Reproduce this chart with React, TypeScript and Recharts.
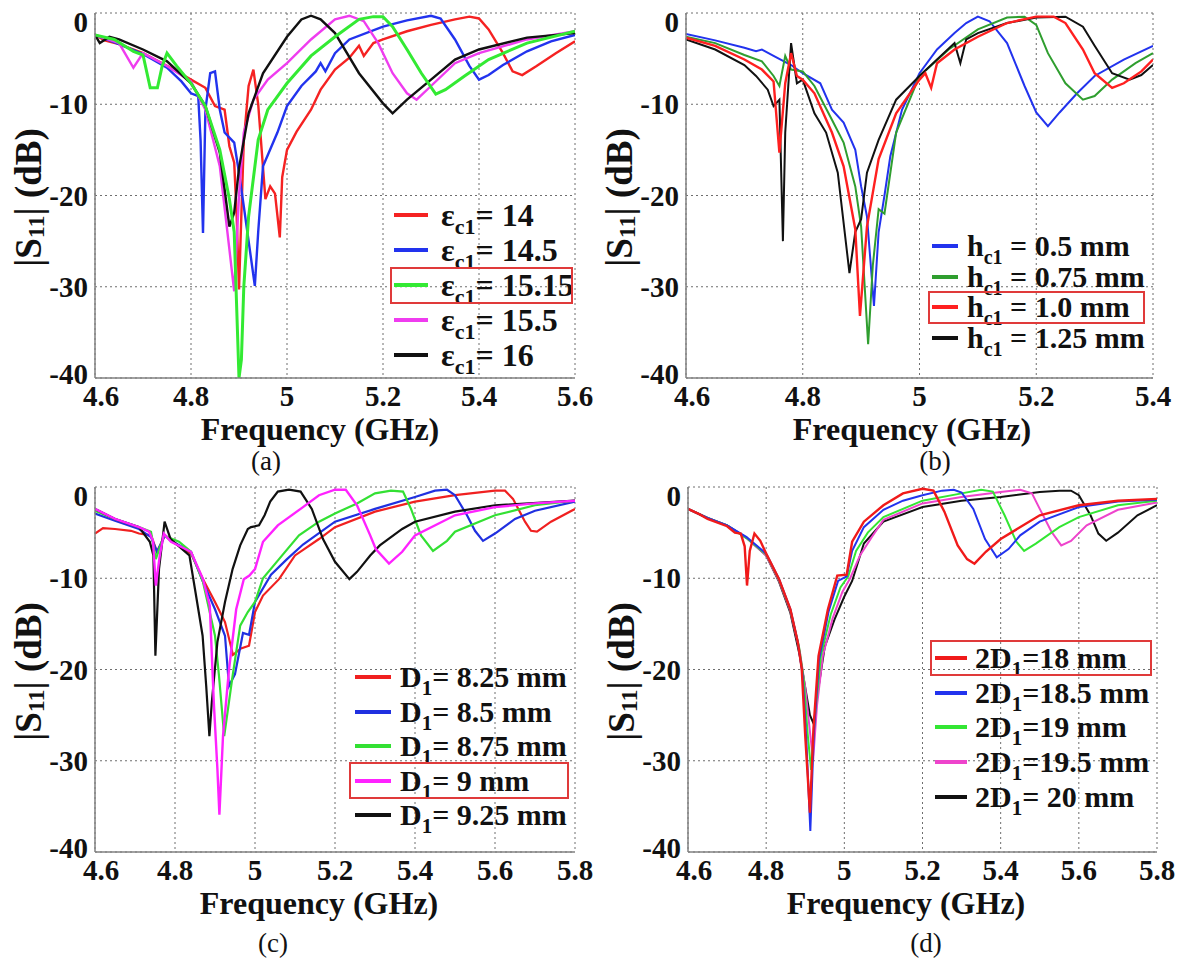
import React from "react";
import { LineChart, Line, XAxis, YAxis, CartesianGrid } from "recharts";

type Pt = [number, number];

const SERIF = '"Liberation Serif", "Times New Roman", serif';
const AXIS = "#808080";

const ticksA = [4.6, 4.8, 5, 5.2, 5.4, 5.6];
const ticksB = [4.6, 4.8, 5, 5.2, 5.4];
const ticksCD = [4.6, 4.8, 5, 5.2, 5.4, 5.6, 5.8];
const dbTicks = [-40, -30, -20, -10, 0];

// (a) eps_c1 sweep
const eps14: Pt[] = [[4.6,-2.4],[4.62,-3.0],[4.65,-3.4],[4.7,-4.4],[4.75,-5.8],[4.8,-7.3],[4.83,-8.2],[4.85,-10.2],[4.87,-10.6],[4.88,-14.6],[4.89,-16.4],[4.895,-22],[4.9,-30.3],[4.905,-22],[4.91,-14],[4.92,-8],[4.93,-6.2],[4.94,-10],[4.955,-20.4],[4.965,-19],[4.975,-19.8],[4.985,-24.6],[4.99,-18],[5.0,-15],[5.02,-13],[5.05,-10.6],[5.07,-8.4],[5.1,-6.2],[5.13,-4.9],[5.15,-3.6],[5.16,-4.7],[5.18,-3.3],[5.2,-2.9],[5.25,-2],[5.3,-1.3],[5.35,-0.7],[5.38,-0.4],[5.4,-0.6],[5.42,-1.8],[5.45,-4.4],[5.47,-6.4],[5.49,-6.8],[5.52,-5.8],[5.56,-4.4],[5.6,-3.1]];
const eps145: Pt[] = [[4.6,-2.4],[4.65,-3.4],[4.7,-4.5],[4.75,-6],[4.78,-7.5],[4.8,-8.8],[4.815,-9.1],[4.82,-14],[4.825,-24.1],[4.83,-10.6],[4.84,-6.6],[4.85,-6.4],[4.86,-10.6],[4.87,-13.1],[4.89,-14.2],[4.9,-17.5],[4.91,-21.2],[4.933,-29.9],[4.94,-24],[4.95,-16.8],[4.98,-13.1],[5.0,-10.2],[5.03,-8],[5.06,-6.4],[5.07,-5.5],[5.08,-6.4],[5.1,-4.4],[5.13,-2.9],[5.2,-1.5],[5.25,-0.8],[5.3,-0.3],[5.32,-0.6],[5.35,-2.9],[5.38,-5.8],[5.4,-7.3],[5.42,-6.8],[5.45,-5.7],[5.5,-4.2],[5.55,-3.1],[5.6,-2.4]];
const eps1515: Pt[] = [[4.6,-2.4],[4.64,-2.9],[4.68,-4.2],[4.7,-4.6],[4.715,-8.2],[4.73,-8.2],[4.74,-5.8],[4.75,-4.4],[4.77,-5.8],[4.8,-7.7],[4.83,-10.2],[4.86,-15],[4.88,-20.4],[4.89,-24],[4.9,-40],[4.905,-38],[4.91,-30],[4.92,-22.3],[4.94,-13.9],[4.96,-10.6],[5.0,-7.7],[5.05,-4.7],[5.1,-2.6],[5.15,-0.7],[5.18,-0.4],[5.2,-0.4],[5.22,-1.5],[5.25,-4],[5.28,-6.6],[5.31,-8.9],[5.33,-8.4],[5.37,-6.9],[5.42,-5.1],[5.5,-3.3],[5.6,-2.0]];
const eps155: Pt[] = [[4.6,-2.4],[4.65,-3.3],[4.68,-6],[4.7,-4.4],[4.75,-5.8],[4.8,-7.5],[4.83,-10.6],[4.86,-16.8],[4.88,-25.9],[4.89,-30.5],[4.9,-20],[4.91,-13.1],[4.93,-9.5],[4.96,-7.3],[5.0,-5.5],[5.05,-2.9],[5.1,-0.7],[5.13,-0.3],[5.16,-0.9],[5.19,-3.3],[5.22,-6.6],[5.25,-8.8],[5.27,-9.5],[5.3,-8],[5.35,-5.5],[5.4,-4.4],[5.5,-2.9],[5.6,-2]];
const eps16: Pt[] = [[4.6,-2.4],[4.61,-3.3],[4.63,-2.6],[4.65,-2.9],[4.7,-4],[4.75,-5.3],[4.8,-7.7],[4.83,-10.2],[4.86,-15.3],[4.88,-23.4],[4.89,-21.9],[4.9,-17],[4.92,-11],[4.95,-6.6],[5.0,-2.6],[5.03,-0.7],[5.05,-0.3],[5.07,-0.7],[5.1,-2.2],[5.15,-6.6],[5.2,-9.9],[5.22,-11],[5.25,-9.5],[5.3,-7.3],[5.35,-5.1],[5.4,-4],[5.5,-2.7],[5.6,-2.2]];

// (b) h_c1 sweep
const h05: Pt[] = [[4.6,-2.3],[4.65,-3.0],[4.7,-3.8],[4.72,-4.2],[4.73,-4.0],[4.75,-4.7],[4.78,-5.7],[4.8,-6.6],[4.83,-7.7],[4.85,-10.6],[4.87,-12],[4.89,-15],[4.9,-19],[4.91,-22.3],[4.922,-32.1],[4.93,-24],[4.94,-20],[4.95,-15.7],[4.97,-10.6],[5.0,-6.6],[5.03,-4],[5.06,-2.2],[5.08,-1.1],[5.1,-0.4],[5.12,-0.9],[5.15,-3.3],[5.18,-8],[5.2,-10.9],[5.22,-12.4],[5.24,-10.9],[5.27,-8.8],[5.3,-6.9],[5.35,-5.1],[5.4,-3.6]];
const h075: Pt[] = [[4.6,-2.6],[4.65,-3.3],[4.7,-4.6],[4.73,-5.3],[4.75,-6.9],[4.76,-8],[4.77,-4.7],[4.78,-6.2],[4.8,-6.4],[4.82,-8],[4.85,-11.7],[4.87,-14.2],[4.89,-19],[4.9,-23.4],[4.912,-36.3],[4.92,-27.7],[4.93,-21.5],[4.94,-22],[4.96,-13.1],[5.0,-6.9],[5.05,-4],[5.1,-1.8],[5.15,-0.5],[5.18,-0.4],[5.2,-1.3],[5.22,-4.4],[5.25,-7.7],[5.28,-9.5],[5.3,-9.1],[5.33,-7.3],[5.37,-5.5],[5.4,-4.4]];
const h10: Pt[] = [[4.6,-2.7],[4.65,-3.6],[4.7,-5.1],[4.73,-6.2],[4.75,-7.5],[4.76,-15.3],[4.77,-7.7],[4.78,-4.4],[4.79,-6.9],[4.8,-7.3],[4.82,-8.8],[4.85,-13.1],[4.87,-16.8],[4.89,-23.7],[4.898,-33.2],[4.91,-23.4],[4.93,-16],[4.96,-11],[5.0,-7.3],[5.01,-6.6],[5.02,-8.2],[5.03,-5.5],[5.06,-4],[5.1,-2.6],[5.15,-1.1],[5.2,-0.4],[5.23,-0.4],[5.25,-1.1],[5.28,-4],[5.3,-6.6],[5.33,-8.2],[5.35,-7.7],[5.38,-6.4],[5.4,-5.1]];
const h125: Pt[] = [[4.6,-2.9],[4.65,-4],[4.7,-5.7],[4.72,-6.9],[4.74,-8.4],[4.75,-10.2],[4.76,-9.5],[4.766,-25],[4.77,-13.1],[4.78,-3.3],[4.79,-7.7],[4.8,-7.3],[4.82,-11],[4.84,-13.1],[4.86,-17.5],[4.88,-28.5],[4.89,-24],[4.9,-22.6],[4.91,-17.5],[4.93,-13.9],[4.96,-9.5],[5.0,-6.9],[5.03,-5.1],[5.06,-3.3],[5.07,-5.5],[5.08,-2.9],[5.1,-2.2],[5.15,-1.1],[5.2,-0.5],[5.25,-0.4],[5.28,-1.5],[5.3,-3.6],[5.33,-6.6],[5.36,-7.3],[5.38,-6.8],[5.4,-5.7]];

// (c) D1 sweep
const d825: Pt[] = [[4.6,-5.1],[4.62,-4.5],[4.65,-4.6],[4.69,-4.8],[4.71,-5.1],[4.74,-5.3],[4.755,-7.1],[4.775,-5.3],[4.79,-5.9],[4.84,-7.3],[4.87,-10.1],[4.9,-12.6],[4.925,-14.8],[4.945,-18.4],[4.965,-17.7],[4.985,-17.4],[5.0,-13.7],[5.02,-11.9],[5.06,-10.1],[5.1,-7.5],[5.16,-5.7],[5.2,-4.4],[5.3,-2.7],[5.4,-1.6],[5.5,-0.9],[5.6,-0.4],[5.625,-0.4],[5.645,-1.3],[5.675,-3.8],[5.69,-4.8],[5.705,-4.9],[5.74,-3.8],[5.8,-2.4]];
const d85: Pt[] = [[4.6,-2.9],[4.65,-3.7],[4.71,-4.6],[4.74,-5.5],[4.755,-7.1],[4.775,-5.3],[4.79,-5.9],[4.84,-7.1],[4.87,-10.4],[4.9,-13.4],[4.925,-16.3],[4.935,-21.8],[4.95,-20.5],[4.97,-16],[4.985,-16.2],[5.0,-12.6],[5.04,-9.6],[5.08,-7.9],[5.12,-6.3],[5.2,-3.8],[5.3,-2.4],[5.4,-1.1],[5.45,-0.4],[5.48,-0.3],[5.5,-0.9],[5.53,-3.1],[5.55,-4.8],[5.57,-5.9],[5.6,-5.1],[5.65,-3.5],[5.7,-2.6],[5.8,-1.6]];
const d875: Pt[] = [[4.6,-2.6],[4.65,-3.5],[4.71,-4.4],[4.74,-4.9],[4.752,-7.9],[4.772,-5.3],[4.81,-6],[4.84,-7.1],[4.87,-10.4],[4.9,-16.3],[4.91,-20.7],[4.923,-27.3],[4.944,-20.7],[4.963,-15.2],[4.982,-13.7],[5.0,-12.6],[5.02,-10],[5.06,-7.9],[5.11,-5.3],[5.16,-3.8],[5.2,-2.9],[5.255,-1.8],[5.3,-0.7],[5.34,-0.4],[5.37,-0.5],[5.39,-2.4],[5.415,-5.3],[5.445,-7],[5.48,-5.9],[5.5,-4.9],[5.6,-3.1],[5.7,-2],[5.8,-1.5]];
const d9: Pt[] = [[4.6,-2.4],[4.65,-3.5],[4.71,-4.4],[4.735,-4.9],[4.745,-5.9],[4.752,-10.8],[4.762,-7.5],[4.772,-5.1],[4.79,-6],[4.84,-7.1],[4.87,-10.1],[4.887,-13],[4.897,-23.6],[4.906,-30.9],[4.911,-35.9],[4.92,-27.3],[4.935,-20],[4.953,-13.4],[4.972,-10.1],[4.986,-9.7],[5.0,-9],[5.02,-6],[5.057,-4.2],[5.114,-2.4],[5.16,-0.9],[5.2,-0.3],[5.227,-0.3],[5.255,-2],[5.288,-5.3],[5.302,-6.8],[5.335,-8.4],[5.368,-7.1],[5.4,-5.3],[5.5,-3.1],[5.6,-2.2],[5.7,-1.8],[5.8,-1.5]];
const d925: Pt[] = [[4.6,-2.4],[4.65,-3.5],[4.71,-4.4],[4.737,-6],[4.746,-7.5],[4.751,-18.5],[4.76,-9],[4.774,-3.8],[4.789,-5.7],[4.836,-7.5],[4.85,-11.2],[4.869,-16.3],[4.878,-21.8],[4.886,-27.3],[4.892,-23.6],[4.906,-17],[4.925,-12.6],[4.944,-9],[4.963,-6.4],[4.982,-4.6],[4.99,-4.4],[5.01,-4.2],[5.024,-3.1],[5.038,-1.6],[5.057,-0.5],[5.085,-0.3],[5.114,-0.5],[5.142,-2.4],[5.17,-5.7],[5.2,-8.2],[5.236,-10.1],[5.255,-9.3],[5.288,-7.5],[5.312,-6.4],[5.368,-4.6],[5.4,-3.8],[5.5,-2.7],[5.6,-2],[5.8,-1.5]];

// (d) 2D1 sweep
const dd18: Pt[] = [[4.6,-2.4],[4.63,-3],[4.65,-3.5],[4.7,-4.3],[4.72,-5],[4.735,-5.1],[4.745,-6.5],[4.751,-10.8],[4.758,-7],[4.77,-5.1],[4.785,-5.9],[4.8,-7.3],[4.833,-10.1],[4.862,-13.4],[4.881,-17],[4.891,-19.9],[4.9,-27.3],[4.912,-35.7],[4.921,-26.5],[4.934,-18.5],[4.958,-13.4],[4.982,-9.7],[5.006,-9.6],[5.02,-6],[5.05,-3.8],[5.1,-2],[5.15,-0.7],[5.2,-0.2],[5.228,-0.4],[5.256,-2.7],[5.29,-6.4],[5.314,-7.9],[5.333,-8.4],[5.362,-7.1],[5.4,-5.7],[5.5,-3.1],[5.6,-2],[5.7,-1.5],[5.8,-1.3]];
const dd185: Pt[] = [[4.6,-2.4],[4.65,-3.4],[4.7,-4.2],[4.75,-5.5],[4.8,-7.3],[4.833,-10.1],[4.862,-13.4],[4.881,-17],[4.893,-20.5],[4.903,-28],[4.913,-37.7],[4.922,-27],[4.935,-19],[4.96,-13.6],[4.984,-10.3],[5.006,-9.8],[5.02,-7],[5.05,-4.4],[5.1,-2.5],[5.15,-1.5],[5.2,-0.9],[5.25,-0.4],[5.28,-0.3],[5.3,-0.6],[5.33,-2.4],[5.36,-5.7],[5.39,-7.7],[5.42,-6.8],[5.45,-5.3],[5.5,-3.8],[5.6,-2.2],[5.7,-1.6],[5.8,-1.4]];
const dd19: Pt[] = [[4.6,-2.4],[4.65,-3.4],[4.7,-4.2],[4.75,-5.6],[4.8,-7.4],[4.833,-10.2],[4.862,-13.5],[4.884,-17.5],[4.896,-21],[4.906,-27],[4.915,-31],[4.925,-25],[4.94,-18.5],[4.965,-14],[4.99,-11],[5.01,-9.8],[5.03,-7],[5.06,-5],[5.1,-3.3],[5.2,-1.5],[5.3,-0.7],[5.35,-0.3],[5.38,-0.5],[5.41,-3.1],[5.44,-6],[5.46,-7],[5.49,-6.2],[5.55,-4.4],[5.6,-3.3],[5.7,-2],[5.8,-1.5]];
const dd195: Pt[] = [[4.6,-2.4],[4.65,-3.4],[4.7,-4.2],[4.75,-5.6],[4.8,-7.5],[4.833,-10.3],[4.862,-13.6],[4.886,-18],[4.9,-22],[4.91,-26],[4.92,-30],[4.93,-24],[4.945,-18.5],[4.97,-14.4],[4.995,-11.5],[5.015,-10],[5.04,-7.5],[5.07,-5.5],[5.1,-3.6],[5.2,-1.8],[5.3,-1.1],[5.4,-0.55],[5.45,-0.3],[5.48,-0.7],[5.5,-2.4],[5.53,-4.9],[5.555,-6.4],[5.58,-5.9],[5.62,-4.2],[5.7,-2.5],[5.8,-1.7]];
const dd20: Pt[] = [[4.6,-2.4],[4.65,-3.4],[4.7,-4.2],[4.75,-5.6],[4.8,-7.5],[4.833,-10.4],[4.862,-13.8],[4.886,-18.5],[4.9,-22],[4.912,-25],[4.922,-26],[4.932,-22.5],[4.95,-17.5],[4.975,-14.5],[5.0,-12],[5.02,-10.3],[5.05,-6.2],[5.1,-3.8],[5.2,-2.2],[5.3,-1.5],[5.4,-1.1],[5.5,-0.55],[5.55,-0.4],[5.58,-0.4],[5.6,-0.9],[5.63,-3.1],[5.65,-5.1],[5.67,-5.9],[5.7,-5],[5.75,-3.1],[5.8,-2]];

interface Curve {
  pts: Pt[];
  color: string;
  w: number;
  label: [string, string, string];
}

interface LegendCfg {
  x: number; y: number; rowH: number; sampleW: number; gap: number;
  font: number; sub: number; boxed: number; boxL: number; boxW: number;
}

interface PanelCfg {
  left: number;
  top: number;
  plotW: number;
  xTicks: number[];
  curves: Curve[];
  order: number[];
  titleX: number;
  capX: number;
  capDy: number;
  caption: string;
  legend: LegendCfg;
}

const panels: PanelCfg[] = [
  {
    left: 0, top: 0, plotW: 480, xTicks: ticksA,
    curves: [
      { pts: eps14, color: "#f52222", w: 2.4, label: ["ε", "c1", "= 14"] },
      { pts: eps145, color: "#2233ee", w: 2.4, label: ["ε", "c1", "= 14.5"] },
      { pts: eps1515, color: "#33ea33", w: 3, label: ["ε", "c1", "= 15.15"] },
      { pts: eps155, color: "#ef3cef", w: 2.4, label: ["ε", "c1", "= 15.5"] },
      { pts: eps16, color: "#111111", w: 2.4, label: ["ε", "c1", "= 16"] },
    ],
    order: [0, 1, 3, 4, 2],
    titleX: 320, capX: 266, capDy: 92, caption: "(a)",
    legend: { x: 394, y: 197.5, rowH: 35, sampleW: 34, gap: 13, font: 32, sub: 22, boxed: 2, boxL: -4, boxW: 183 },
  },
  {
    left: 591, top: 0, plotW: 467, xTicks: ticksB,
    curves: [
      { pts: h05, color: "#2233ee", w: 2, label: ["h", "c1", " = 0.5 mm"] },
      { pts: h075, color: "#2f9e2f", w: 2, label: ["h", "c1", " = 0.75 mm"] },
      { pts: h10, color: "#ff2020", w: 2.4, label: ["h", "c1", " = 1.0 mm"] },
      { pts: h125, color: "#111111", w: 2, label: ["h", "c1", " = 1.25 mm"] },
    ],
    order: [0, 1, 3, 2],
    titleX: 912, capX: 935, capDy: 92, caption: "(b)",
    legend: { x: 932, y: 230.6, rowH: 30.7, sampleW: 26, gap: 9, font: 30, sub: 20, boxed: 2, boxL: -4, boxW: 217 },
  },
  {
    left: 0, top: 474, plotW: 480, xTicks: ticksCD,
    curves: [
      { pts: d825, color: "#f02020", w: 2.2, label: ["D", "1", "= 8.25 mm"] },
      { pts: d85, color: "#2030e0", w: 2.2, label: ["D", "1", "= 8.5 mm"] },
      { pts: d875, color: "#33e033", w: 2.2, label: ["D", "1", "= 8.75 mm"] },
      { pts: d9, color: "#ff22ff", w: 2.4, label: ["D", "1", "= 9 mm"] },
      { pts: d925, color: "#111111", w: 2.2, label: ["D", "1", "= 9.25 mm"] },
    ],
    order: [0, 1, 2, 4, 3],
    titleX: 319, capX: 273, capDy: 100, caption: "(c)",
    legend: { x: 355, y: 659.75, rowH: 34.5, sampleW: 36, gap: 9, font: 30, sub: 21, boxed: 3, boxL: -6, boxW: 220 },
  },
  {
    left: 593, top: 474, plotW: 469, xTicks: ticksCD,
    curves: [
      { pts: dd18, color: "#f01a1a", w: 2.4, label: ["2D", "1", "=18 mm"] },
      { pts: dd185, color: "#2233ee", w: 2, label: ["2D", "1", "=18.5 mm"] },
      { pts: dd19, color: "#33e633", w: 2, label: ["2D", "1", "=19 mm"] },
      { pts: dd195, color: "#ee44cc", w: 2, label: ["2D", "1", "=19.5 mm"] },
      { pts: dd20, color: "#111111", w: 2, label: ["2D", "1", "= 20 mm"] },
    ],
    order: [4, 3, 2, 1, 0],
    titleX: 906, capX: 926, capDy: 100, caption: "(d)",
    legend: { x: 935, y: 640.6, rowH: 34.75, sampleW: 32, gap: 8, font: 30, sub: 21, boxed: 0, boxL: -5, boxW: 222 },
  },
];

const toRows = (pts: Pt[]) => pts.map(([f, s]) => ({ f, s }));

// the 0 and -40 labels sit slightly inside the plot, like the source figure
const YTick = (p: any) => {
  const v = p.payload.value;
  const dy = v === 0 ? 9 : v === -40 ? -4 : 0;
  return (
    <text
      x={p.x}
      y={p.y + dy}
      textAnchor="end"
      dominantBaseline="central"
      fontFamily={SERIF}
      fontWeight="bold"
      fontSize={29}
      fill="#111"
    >
      {v}
    </text>
  );
};

const XTick = (p: any) => (
  <text
    x={p.x + (p.index === 0 ? 6 : 0)}
    y={p.y}
    dy="0.71em"
    textAnchor="middle"
    fontFamily={SERIF}
    fontWeight="bold"
    fontSize={29}
    fill="#111"
  >
    {p.payload.value}
  </text>
);

const YTitle = (p: any) => {
  const vb = p.viewBox || {};
  const cx = vb.x - 7;
  const cy = vb.y + vb.height / 2 + 2;
  return (
    <text
      transform={`translate(${cx},${cy}) rotate(-90)`}
      textAnchor="middle"
      dominantBaseline="central"
      fontFamily={SERIF}
      fontWeight="bold"
      fontSize={37}
      fill="#111"
    >
      |S<tspan fontSize={24} dy={8}>11</tspan>
      <tspan dy={-8}>| (dB)</tspan>
    </text>
  );
};

function Panel({ cfg }: { cfg: PanelCfg }) {
  const width = 95 + cfg.plotW + 22;
  const height = 486;
  const xMin = cfg.xTicks[0];
  const xMax = cfg.xTicks[cfg.xTicks.length - 1];
  const lg = cfg.legend;

  const XTitle = (p: any) => {
    const vb = p.viewBox || {};
    return (
      <g fill="#111" fontFamily={SERIF}>
        <text x={cfg.titleX - cfg.left} y={vb.y + 62} textAnchor="middle" fontWeight="bold" fontSize={32}>
          Frequency (GHz)
        </text>
        <text x={cfg.capX - cfg.left} y={vb.y + cfg.capDy} textAnchor="middle" fontSize={27}>
          {cfg.caption}
        </text>
      </g>
    );
  };

  return (
    <div style={{ position: "absolute", left: cfg.left, top: cfg.top }}>
      <LineChart width={width} height={height} margin={{ top: 13, right: 22, bottom: 78, left: 35 }}>
        <CartesianGrid stroke="#6e6e6e" strokeDasharray="2 3" strokeWidth={1} />
        <XAxis
          type="number"
          dataKey="f"
          domain={[xMin, xMax]}
          ticks={cfg.xTicks}
          interval={0}
          allowDataOverflow
          height={30}
          tickLine={false}
          tickSize={0}
          tickMargin={7}
          axisLine={{ stroke: AXIS, strokeWidth: 1.5 }}
          tick={XTick}
          label={XTitle}
        />
        <XAxis
          xAxisId="top"
          orientation="top"
          type="number"
          domain={[xMin, xMax]}
          height={0}
          tick={false}
          tickLine={false}
          axisLine={{ stroke: AXIS, strokeWidth: 1.5 }}
        />
        <YAxis
          type="number"
          domain={[-40, 0]}
          ticks={dbTicks}
          interval={0}
          allowDataOverflow
          width={60}
          tickLine={false}
          tickSize={0}
          tickMargin={7}
          axisLine={{ stroke: AXIS, strokeWidth: 1.5 }}
          tick={YTick}
          label={YTitle}
        />
        <YAxis
          yAxisId="right"
          orientation="right"
          type="number"
          domain={[-40, 0]}
          width={0}
          tick={false}
          tickLine={false}
          axisLine={{ stroke: AXIS, strokeWidth: 1.5 }}
        />
        {cfg.order.map((i) => {
          const c = cfg.curves[i];
          return (
            <Line
              key={i}
              data={toRows(c.pts)}
              dataKey="s"
              type="linear"
              stroke={c.color}
              strokeWidth={c.w}
              dot={false}
              activeDot={false}
              isAnimationActive={false}
            />
          );
        })}
      </LineChart>
      <div
        style={{
          position: "absolute",
          left: lg.x - cfg.left,
          top: lg.y - cfg.top,
          fontFamily: SERIF,
          fontWeight: "bold",
          fontSize: lg.font,
          color: "#111",
        }}
      >
        {cfg.curves.map((c, i) => (
          <div
            key={i}
            style={{ position: "relative", display: "flex", alignItems: "center", height: lg.rowH, whiteSpace: "nowrap", lineHeight: 1 }}
          >
            <div style={{ width: lg.sampleW, height: 4, background: c.color, marginRight: lg.gap }} />
            <span>
              {c.label[0]}
              <span style={{ fontSize: lg.sub, position: "relative", top: 8 }}>{c.label[1]}</span>
              {c.label[2]}
            </span>
            {i === lg.boxed && (
              <div
                style={{
                  position: "absolute",
                  left: lg.boxL,
                  top: -1,
                  width: lg.boxW,
                  height: lg.rowH + 2,
                  boxSizing: "border-box",
                  border: "2px solid #e03a3a",
                }}
              />
            )}
          </div>
        ))}
      </div>
    </div>
  );
}

export default function App() {
  return (
    <div style={{ position: "absolute", left: 0, top: 0, width: 1181, height: 960, background: "#fff" }}>
      {panels.map((p, i) => (
        <Panel key={i} cfg={p} />
      ))}
    </div>
  );
}
